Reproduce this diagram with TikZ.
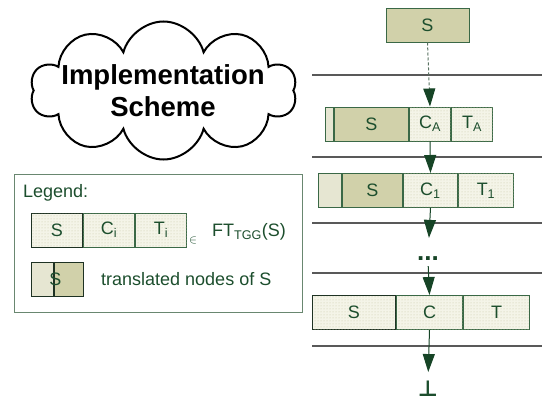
\documentclass[tikz,border=0pt]{standalone}
\usepackage{fontspec}
\setmainfont{Liberation Sans}
\newfontfamily\symbolfont{DejaVu Sans}
\usepackage{xcolor}
\usepackage{tikz}
\usetikzlibrary{arrows.meta,shapes.symbols,patterns}
\definecolor{SrcOlive}{RGB}{209,209,170}
\definecolor{DoneOlive}{RGB}{230,230,210}
\definecolor{CellBeige}{RGB}{244,244,232}
\definecolor{DotBeige}{RGB}{200,200,165}
\definecolor{BoxGreen}{RGB}{58,104,70}
\definecolor{DarkBorder}{RGB}{30,50,35}
\definecolor{TextGreen}{RGB}{28,78,45}
\definecolor{ArrowGreen}{RGB}{22,68,38}
\definecolor{DashGray}{RGB}{90,115,98}
\definecolor{LegendGreen}{RGB}{105,135,112}

\begin{document}
\begin{tikzpicture}[x=1pt,y=-1pt,
  >={Triangle[length=18pt,width=12pt]},
  box/.style={draw=BoxGreen,line width=1pt,minimum height=34pt,inner sep=0pt,
    anchor=west,text=TextGreen,font=\fontsize{18}{20}\selectfont},
  src/.style={box,fill=SrcOlive},
  done/.style={box,fill=DoneOlive},
  cell/.style={box,fill=CellBeige,postaction={pattern=dots,pattern color=DotBeige}},
  flow/.style={->,ArrowGreen,line width=1pt},
  level/.style={black!65,line width=1.2pt},
  lbl/.style={text=TextGreen,font=\fontsize{18}{20}\selectfont,inner sep=0pt}]
  \useasboundingbox (0,0) rectangle (542,402);

  \node[cloud,draw,line width=2pt,cloud puffs=10,cloud ignores aspect,
    minimum width=266pt,minimum height=138pt] (cloud) at (163.5,90.5) {};
  \node[font=\bfseries\fontsize{27.5}{32}\selectfont,align=center] (title) at (163,91)
    {Implementation\\Scheme};

  \foreach \y in {75,157,223,273,346}
    \draw[level] (312,\y) -- (542,\y);

  \node[src,minimum width=83pt,anchor=center] (s0) at (427.5,25) {S};

  \node[done,minimum width=8pt] (dA) at (325,124) {};
  \node[src,minimum width=74pt] (sA) at (dA.east) {S};
  \node[cell,minimum width=41pt] (cA) at (sA.east) {C\textsubscript{A}};
  \node[cell,minimum width=41pt] (tA) at (cA.east) {T\textsubscript{A}};

  \node[done,minimum width=23pt] (d1) at (318,190.5) {};
  \node[src,minimum width=60pt] (s1) at (d1.east) {S};
  \node[cell,minimum width=54pt] (c1) at (s1.east) {C\textsubscript{1}};
  \node[cell,minimum width=55pt] (t1) at (c1.east) {T\textsubscript{1}};

  \node[lbl,font=\bfseries\fontsize{26}{28}\selectfont,text=ArrowGreen] (gap) at (428,259) {...};

  \node[cell,draw=DarkBorder,minimum width=83pt] (sN) at (312,312.5) {S};
  \node[cell,minimum width=66pt] (cN) at (sN.east) {C};
  \node[cell,minimum width=66pt] (tN) at (cN.east) {T};

  \node[lbl,font=\symbolfont\bfseries\fontsize{22}{24}\selectfont] (bot) at (428,389) {⊥};

  \draw[->,DashGray,line width=1pt,dash pattern=on 3pt off 2pt,
    -{Triangle[length=18pt,width=12pt,color=ArrowGreen]}] (s0.south) -- (cA.north);
  \draw[flow] (cA.south) -- (c1.north);
  \draw[flow,shorten >=19pt] (c1.south) -- (gap.north);
  \draw[flow,shorten <=5pt] (gap.south) -- (cN.north);
  \draw[flow,shorten >=9pt] (cN.south) -- (bot.north);

  \node[draw=LegendGreen,line width=1.2pt,minimum width=288pt,minimum height=138pt,
    inner sep=0pt,anchor=north west] (legend) at (14,174) {};
  \node[lbl,anchor=west] (legtitle) at (23,193) {Legend:};
  \node[cell,draw=DarkBorder,minimum width=51pt] (lS) at (31,230) {S};
  \node[cell,minimum width=51pt] (lC) at (lS.east) {C\textsubscript{i}};
  \node[cell,minimum width=51pt] (lT) at (lC.east) {T\textsubscript{i}};
  \node[text=TextGreen,font=\fontsize{12}{14}\selectfont,inner sep=0pt] (elem) at (193,240) {$\in$};
  \node[lbl,anchor=west] (ft) at (212,232) {FT\textsubscript{TGG}(S)};
  \node[done,draw=DarkBorder,minimum width=22pt] (lD) at (31,279.5) {};
  \node[src,draw=DarkBorder,minimum width=29pt] (lSrc) at (lD.east) {};
  \node[lbl] (lSx) at (55.5,279.5) {S};
  \node[lbl,anchor=west] (ltext) at (101,279.5) {translated nodes of S};
\end{tikzpicture}
\end{document}
